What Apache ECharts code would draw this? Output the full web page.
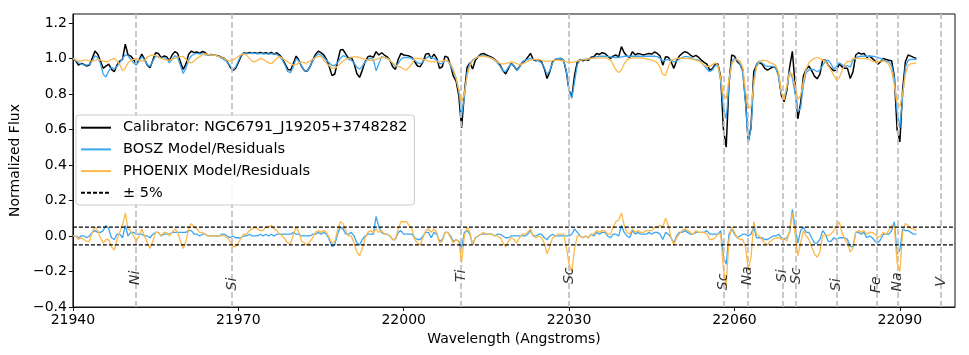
<!DOCTYPE html>
<html><head><meta charset="utf-8">
<script src="https://cdn.jsdelivr.net/npm/echarts@6/dist/echarts.min.js"></script>
<style>html,body{margin:0;padding:0;background:#fff}#chart{width:969px;height:355px}</style>
</head><body><div id="chart"></div>
<script>
// Wavelength sampling of the spectra (Angstroms)
const wavelengthStart = 21940;
const wavelengthStep = 0.5;

const calibrator = [
1.000,0.987,0.962,0.972,0.966,0.957,0.962,1.000,1.041,1.024,
0.985,0.944,0.957,0.968,0.938,0.925,0.962,0.985,0.994,1.080,
1.019,1.013,0.994,0.968,0.990,1.024,0.994,0.962,0.947,0.990,
1.032,1.028,1.004,1.013,1.009,0.987,1.019,1.038,1.028,0.981,
0.938,0.968,1.024,1.041,1.032,1.036,1.028,1.039,1.032,1.019,
1.022,1.019,1.017,1.013,1.006,1.000,0.981,0.953,0.931,0.944,
0.976,1.013,1.032,1.028,1.034,1.028,1.032,1.028,1.034,1.028,
1.032,1.026,1.034,1.024,1.032,1.019,0.998,0.968,0.938,0.934,
0.972,1.013,0.990,0.953,0.931,0.929,0.953,0.990,1.022,1.041,
1.032,1.020,0.995,0.953,0.903,0.912,0.981,1.047,1.050,1.024,
1.000,1.006,0.972,0.915,0.893,0.934,0.981,1.009,1.013,1.006,
1.038,1.019,1.032,1.019,1.009,0.990,0.953,0.938,0.994,1.028,
1.019,1.017,1.013,1.006,0.981,0.957,0.953,0.981,1.024,1.028,
1.000,1.024,1.000,0.944,0.953,1.013,1.006,0.962,0.900,0.874,
0.790,0.610,0.800,0.950,0.975,0.940,0.990,1.009,1.024,1.028,
1.019,1.013,1.006,0.994,0.981,0.962,0.931,0.912,0.944,0.972,
0.957,0.934,0.953,0.976,0.987,1.006,1.028,0.994,0.987,0.994,
0.981,0.944,0.887,0.925,0.981,0.994,0.998,1.000,0.990,0.925,
0.821,0.783,0.906,0.981,0.994,0.987,0.994,0.990,1.006,1.009,
1.028,1.022,1.032,1.028,1.013,1.000,1.013,1.019,1.009,1.066,
1.032,1.013,1.006,1.038,1.019,1.028,1.024,1.019,1.024,1.028,
1.024,1.036,1.028,1.013,0.962,1.009,1.006,0.981,0.944,0.987,
1.013,1.028,1.038,1.032,1.019,1.009,1.017,1.006,0.990,0.978,
0.968,0.934,0.942,0.968,0.968,0.897,0.600,0.500,0.860,1.019,
1.013,0.981,0.968,0.934,0.764,0.530,0.614,0.925,0.962,0.976,
0.968,0.944,0.934,0.944,0.953,0.947,0.906,0.793,0.756,0.820,
0.950,1.040,0.850,0.660,0.750,0.900,0.938,0.957,0.931,0.900,
0.885,0.912,0.990,0.990,0.962,0.944,0.931,0.934,0.968,0.953,
0.944,0.944,0.887,0.925,1.019,1.032,1.024,1.028,1.006,1.013,
1.000,0.985,0.968,0.981,1.000,0.994,0.990,0.987,0.897,0.600,
0.530,0.821,0.981,1.019,1.013,1.006,1.000];

const bosz = [
1.000,0.990,0.975,0.968,0.963,0.962,0.966,0.985,1.015,1.005,
0.970,0.910,0.895,0.930,0.950,0.940,0.955,0.975,1.000,1.020,
1.015,0.995,0.975,0.962,0.985,1.010,0.990,0.965,0.955,0.985,
1.012,1.010,1.000,1.005,1.000,0.975,0.995,1.015,1.005,0.960,
0.915,0.945,0.990,1.015,1.025,1.028,1.025,1.025,1.020,1.018,
1.020,1.018,1.015,1.010,1.000,0.992,0.980,0.960,0.935,0.950,
0.985,1.020,1.030,1.030,1.028,1.028,1.028,1.026,1.028,1.026,
1.026,1.025,1.026,1.025,1.022,1.010,0.990,0.960,0.925,0.920,
0.955,1.000,0.985,0.955,0.930,0.930,0.955,0.985,1.010,1.025,
1.020,1.005,0.988,0.975,0.960,0.960,0.975,1.000,1.015,1.010,
0.995,0.990,0.975,0.950,0.940,0.955,0.980,0.995,1.000,0.995,
0.930,0.970,1.010,1.005,1.000,0.990,0.970,0.955,0.970,0.995,
1.005,1.005,1.003,1.000,0.990,0.975,0.970,0.980,1.000,1.010,
1.005,1.000,0.990,0.970,0.970,0.990,0.985,0.960,0.925,0.890,
0.820,0.675,0.780,0.920,0.970,0.990,1.000,1.010,1.015,1.015,
1.012,1.008,1.000,0.990,0.975,0.955,0.930,0.925,0.950,0.970,
0.960,0.930,0.950,0.980,0.990,0.995,1.000,0.995,0.990,0.985,
0.975,0.950,0.910,0.930,0.975,0.995,1.000,1.000,0.990,0.930,
0.820,0.775,0.870,0.965,0.990,0.995,0.995,0.998,1.000,1.005,
1.010,1.012,1.012,1.012,1.010,1.008,1.006,1.005,1.005,1.008,
1.012,1.012,1.012,1.012,1.012,1.012,1.012,1.010,1.012,1.012,
1.012,1.012,1.010,1.000,0.985,0.990,0.995,0.990,0.980,0.985,
0.995,1.005,1.010,1.010,1.005,0.995,0.995,0.990,0.975,0.960,
0.940,0.925,0.935,0.960,0.960,0.870,0.720,0.660,0.850,0.980,
1.000,0.990,0.970,0.920,0.750,0.535,0.600,0.880,0.970,0.985,
0.975,0.960,0.955,0.955,0.955,0.945,0.900,0.800,0.780,0.830,
0.930,0.890,0.800,0.700,0.720,0.850,0.920,0.935,0.940,0.935,
0.925,0.935,0.960,0.985,0.990,0.970,0.940,0.955,0.975,0.965,
0.955,0.960,0.950,0.990,1.000,1.010,1.012,1.012,1.012,1.012,
1.012,1.010,1.005,1.000,0.990,0.985,0.980,0.960,0.890,0.700,
0.610,0.780,0.950,0.990,0.995,0.995,0.995];

const phoenix = [
1.000,0.990,0.985,0.985,0.990,0.990,0.988,0.985,0.988,0.995,
0.990,0.985,0.980,0.985,0.995,1.000,0.985,0.965,0.930,0.945,
0.975,0.988,0.995,1.000,0.990,0.985,0.990,1.005,1.015,1.020,
1.015,1.008,1.000,0.995,0.990,0.990,0.995,1.000,1.005,1.010,
1.010,0.995,0.980,0.975,0.985,1.000,1.010,1.020,1.025,1.022,
1.020,1.018,1.015,1.010,1.005,0.998,0.990,0.985,0.990,1.000,
1.012,1.020,1.025,1.020,1.000,0.985,0.980,0.990,1.000,0.995,
0.985,0.975,0.970,0.985,1.000,1.010,1.000,0.990,0.980,0.970,
0.962,0.965,0.975,0.980,0.975,0.975,0.985,0.995,1.005,1.010,
1.012,0.990,0.972,0.958,0.945,0.945,0.955,0.970,0.985,0.995,
1.000,1.005,1.008,1.008,1.005,1.000,0.995,0.990,0.988,0.990,
0.995,1.000,1.005,1.005,1.000,0.990,0.975,0.960,0.955,0.950,
0.940,0.935,0.950,0.970,1.000,1.000,0.998,0.995,0.990,0.985,
0.982,0.980,0.980,0.982,0.985,0.990,0.985,0.970,0.940,0.890,
0.820,0.755,0.800,0.900,0.960,0.985,1.000,1.008,1.012,1.012,
1.010,1.005,1.000,0.990,0.980,0.972,0.968,0.970,0.975,0.980,
0.978,0.970,0.965,0.968,0.975,0.985,0.990,0.995,0.995,0.993,
0.990,0.985,0.985,0.985,0.988,0.990,0.990,0.988,0.985,0.980,
0.978,0.978,0.980,0.985,0.990,0.992,0.995,0.997,1.000,1.002,
1.002,1.003,1.003,1.003,1.000,0.990,0.965,0.935,0.920,0.935,
0.970,0.990,1.000,1.003,1.003,1.003,1.003,1.000,0.998,0.995,
0.990,0.985,0.975,0.950,0.910,0.905,0.950,0.990,0.995,1.000,
1.000,1.000,1.000,1.000,0.998,0.995,0.990,0.985,0.975,0.960,
0.955,0.955,0.965,0.975,0.960,0.890,0.790,0.775,0.880,0.965,
0.990,0.995,0.985,0.950,0.820,0.720,0.730,0.850,0.950,0.980,
0.990,0.988,0.985,0.975,0.970,0.960,0.920,0.810,0.765,0.850,
0.920,0.910,0.840,0.770,0.790,0.870,0.940,0.975,0.990,1.000,
1.005,1.000,0.990,0.985,0.960,0.935,0.905,0.880,0.890,0.930,
0.965,0.985,0.980,1.000,1.000,1.000,1.000,1.000,0.998,0.995,
0.985,0.980,0.980,0.985,0.985,0.980,0.965,0.930,0.850,0.750,
0.730,0.800,0.910,0.960,0.970,0.970,0.975];

const boszResidual = [
0.00,0.00,-0.01,0.00,0.00,-0.01,0.00,0.02,0.03,0.02,
0.02,0.03,0.06,0.04,-0.01,-0.02,0.01,0.01,-0.01,0.06,
0.00,0.02,0.02,0.01,0.01,0.01,0.00,0.00,-0.01,0.01,
0.02,0.02,0.00,0.01,0.01,0.01,0.02,0.02,0.02,0.02,
0.02,0.02,0.03,0.03,0.01,0.01,0.00,0.01,0.01,0.00,
0.00,0.00,0.00,0.00,0.01,0.01,0.00,-0.01,0.00,-0.01,
-0.01,-0.01,0.00,0.00,0.01,0.00,0.00,0.00,0.01,0.00,
0.01,0.00,0.01,0.00,0.01,0.01,0.01,0.01,0.01,0.01,
0.02,0.01,0.01,0.00,0.00,0.00,0.00,0.01,0.01,0.02,
0.01,0.02,0.01,-0.02,-0.06,-0.05,0.01,0.05,0.04,0.01,
0.01,0.02,0.00,-0.04,-0.05,-0.02,0.00,0.01,0.01,0.01,
0.11,0.05,0.02,0.01,0.01,0.00,-0.02,-0.02,0.02,0.03,
0.01,0.01,0.01,0.01,-0.01,-0.02,-0.02,0.00,0.02,0.02,
-0.01,0.02,0.01,-0.03,-0.02,0.02,0.02,0.00,-0.03,-0.02,
-0.03,-0.07,0.02,0.03,0.01,-0.05,-0.01,0.00,0.01,0.01,
0.01,0.01,0.01,0.00,0.01,0.01,0.00,-0.01,-0.01,0.00,
0.00,0.00,0.00,0.00,0.00,0.01,0.03,0.00,0.00,0.01,
0.01,-0.01,-0.02,0.00,0.01,0.00,0.00,0.00,0.00,0.00,
0.00,0.01,0.04,0.02,0.00,-0.01,0.00,-0.01,0.01,0.00,
0.02,0.01,0.02,0.02,0.00,-0.01,0.01,0.01,0.00,0.06,
0.02,0.00,-0.01,0.03,0.01,0.02,0.01,0.01,0.01,0.02,
0.01,0.02,0.02,0.01,-0.02,0.02,0.01,-0.01,-0.04,0.00,
0.02,0.02,0.03,0.02,0.01,0.01,0.02,0.02,0.02,0.02,
0.03,0.01,0.01,0.01,0.01,0.03,-0.12,-0.16,0.01,0.04,
0.01,-0.01,0.00,0.01,0.01,0.00,0.01,0.05,-0.01,-0.01,
-0.01,-0.02,-0.02,-0.01,0.00,0.00,0.01,-0.01,-0.02,-0.01,
0.02,0.15,0.05,-0.04,0.03,0.05,0.02,0.02,-0.01,-0.04,
-0.04,-0.02,0.03,0.01,-0.03,-0.03,-0.01,-0.02,-0.01,-0.01,
-0.01,-0.02,-0.06,-0.06,0.02,0.02,0.01,0.02,-0.01,0.00,
-0.01,-0.03,-0.04,-0.02,0.01,0.01,0.01,0.03,0.08,-0.10,
-0.08,0.04,0.03,0.03,0.02,0.01,0.01];

const phoenixResidual = [
0.00,0.00,-0.02,-0.01,-0.02,-0.03,-0.03,0.02,0.05,0.03,
-0.01,-0.04,-0.02,-0.02,-0.06,-0.08,-0.02,0.02,0.06,0.13,
0.04,0.03,0.00,-0.03,0.00,0.04,0.00,-0.04,-0.07,-0.03,
0.02,0.02,0.00,0.02,0.02,0.00,0.02,0.04,0.02,-0.03,
-0.07,-0.03,0.04,0.07,0.05,0.04,0.02,0.02,0.01,0.00,
0.00,0.00,0.00,0.00,0.00,0.00,-0.01,-0.03,-0.06,-0.06,
-0.04,-0.01,0.01,0.01,0.03,0.04,0.05,0.04,0.03,0.03,
0.05,0.05,0.06,0.04,0.03,0.01,0.00,-0.02,-0.04,-0.04,
0.01,0.05,0.02,-0.03,-0.04,-0.05,-0.03,-0.01,0.02,0.03,
0.02,0.03,0.02,-0.01,-0.04,-0.03,0.03,0.08,0.07,0.03,
0.00,0.00,-0.04,-0.09,-0.11,-0.07,-0.01,0.02,0.03,0.02,
0.04,0.02,0.03,0.01,0.01,0.00,-0.02,-0.02,0.04,0.08,
0.08,0.08,0.06,0.04,-0.02,-0.04,-0.05,-0.01,0.03,0.04,
0.02,0.04,0.02,-0.04,-0.03,0.02,0.02,-0.01,-0.04,-0.02,
-0.03,-0.15,0.00,0.05,0.02,-0.05,-0.01,0.00,0.01,0.02,
0.01,0.01,0.01,0.00,0.00,-0.01,-0.04,-0.06,-0.03,-0.01,
-0.02,-0.04,-0.01,0.01,0.01,0.02,0.04,0.00,-0.01,0.00,
-0.01,-0.04,-0.10,-0.06,-0.01,0.00,0.01,0.01,0.01,-0.06,
-0.16,-0.20,-0.07,0.00,0.00,-0.01,0.00,-0.01,0.01,0.01,
0.03,0.02,0.03,0.03,0.01,0.01,0.05,0.08,0.09,0.13,
0.06,0.02,0.01,0.04,0.02,0.03,0.02,0.02,0.03,0.03,
0.03,0.05,0.05,0.06,0.05,0.10,0.06,-0.01,-0.05,-0.01,
0.01,0.03,0.04,0.03,0.02,0.01,0.03,0.02,0.02,0.02,
0.01,-0.02,-0.02,-0.01,0.01,0.01,-0.19,-0.28,-0.02,0.05,
0.02,-0.01,-0.02,-0.02,-0.06,-0.19,-0.12,0.08,0.01,0.00,
-0.02,-0.04,-0.05,-0.03,-0.02,-0.01,-0.01,-0.02,-0.01,-0.03,
0.03,0.13,0.01,-0.11,-0.04,0.03,0.00,-0.02,-0.06,-0.10,
-0.12,-0.09,0.00,0.01,0.00,0.01,0.03,0.05,0.08,0.02,
-0.02,-0.04,-0.09,-0.07,0.02,0.03,0.02,0.03,0.01,0.02,
0.02,0.01,-0.01,0.00,0.02,0.01,0.03,0.06,0.05,-0.15,
-0.20,0.02,0.07,0.06,0.04,0.04,0.03];

const elementNames = ['Ni','Si','Ti','Sc','Sc','Na','Si','Sc','Si','Fe','Na','V'];
const elementWavelengths = [21951.4,21968.9,22010.4,22030.0,22058.0,22062.4,22068.7,22071.2,22078.5,22085.8,22089.6,22097.5];
const elementLabelY = [-0.227,-0.262,-0.216,-0.216,-0.25,-0.216,-0.216,-0.216,-0.266,-0.266,-0.25,-0.25];

const xTicks = [21940,21970,22000,22030,22060,22090];
const yTicks = [-0.4,-0.2,0.0,0.2,0.4,0.6,0.8,1.0,1.2];
const bandLevel = 0.05;
const xRange = [21940, 22100];
const yRange = [-0.4, 1.25];

const names = {
  cal: 'Calibrator: NGC6791_J19205+3748282',
  bosz: 'BOSZ Model/Residuals',
  phx: 'PHOENIX Model/Residuals',
  band: '\u00b1 5%'
};

function pairs(arr){ return arr.map((v,i)=>[wavelengthStart + wavelengthStep*i, v]); }

const FONT = 'DejaVu Sans';
const BLUE = '#3aa6f2';
const ORANGE = '#fdb94a';

const chart = echarts.init(document.getElementById('chart'), null, {renderer:'canvas'});
const lineBase = {type:'line', showSymbol:false, symbol:'none', animation:false, silent:true};

chart.setOption({
  animation:false,
  backgroundColor:'#ffffff',
  textStyle:{fontFamily:FONT},
  grid:{left:68, right:14, top:14, bottom:48, show:true, borderColor:'#111', borderWidth:1, backgroundColor:'transparent'},
  legend:{
    data:[names.cal, names.bosz, names.phx, names.band],
    orient:'vertical', left:76, top:115,
    itemWidth:30, itemHeight:14, itemGap:5.7,
    padding:[4.7,7,4.2,4],
    backgroundColor:'rgba(255,255,255,0.8)', borderColor:'#cccccc', borderWidth:1, borderRadius:3,
    itemStyle:{opacity:0},
    textStyle:{fontFamily:FONT, fontSize:14.5, color:'#000', lineHeight:16, padding:[0,0,0,7]},
    z:20, selectedMode:false
  },
  xAxis:{
    type:'value', min:xRange[0], max:xRange[1],
    name:'Wavelength (Angstroms)', nameLocation:'middle', nameGap:25,
    nameTextStyle:{fontFamily:FONT, fontSize:14, color:'#000'},
    axisLine:{show:true, onZero:false, lineStyle:{color:'#111', width:1}},
    axisTick:{show:true, length:4, lineStyle:{color:'#111', width:1}, customValues:xTicks},
    axisLabel:{fontFamily:FONT, fontSize:14, color:'#000', margin:6, customValues:xTicks, formatter:v=>String(v)},
    splitLine:{show:false}
  },
  yAxis:{
    type:'value', min:yRange[0], max:yRange[1],
    name:'Normalized Flux', nameLocation:'middle', nameGap:44,
    nameTextStyle:{fontFamily:FONT, fontSize:14, color:'#000'},
    axisLine:{show:true, onZero:false, lineStyle:{color:'#111', width:1}},
    axisTick:{show:true, length:4, lineStyle:{color:'#111', width:1}, customValues:yTicks},
    axisLabel:{fontFamily:FONT, fontSize:14, color:'#000', margin:6, customValues:yTicks,
      formatter:v=>(v<-1e-9?'\u2212':'')+Math.abs(v).toFixed(1)},
    splitLine:{show:false}
  },
  series:[
    {type:'line', name:'elementLines', data:[], silent:true, z:1,
      markLine:{silent:true, symbol:['none','none'], animation:false, label:{show:false},
        lineStyle:{color:'#c4c4c4', type:[6,3], width:1.8},
        data:elementWavelengths.map(w=>({xAxis:w}))}},
    Object.assign({}, lineBase, {name:names.cal, data:pairs(calibrator), z:3,
      lineStyle:{color:'#000', width:1.5}, itemStyle:{color:'#000'}}),
    Object.assign({}, lineBase, {name:names.bosz, data:pairs(bosz), z:4,
      lineStyle:{color:BLUE, width:1.3}, itemStyle:{color:BLUE}}),
    Object.assign({}, lineBase, {name:names.phx, data:pairs(phoenix), z:5,
      lineStyle:{color:ORANGE, width:1.3}, itemStyle:{color:ORANGE}}),
    Object.assign({}, lineBase, {name:names.bosz, data:pairs(boszResidual), z:4,
      lineStyle:{color:BLUE, width:1.3}, itemStyle:{color:BLUE}}),
    Object.assign({}, lineBase, {name:names.phx, data:pairs(phoenixResidual), z:5,
      lineStyle:{color:ORANGE, width:1.3}, itemStyle:{color:ORANGE}}),
    Object.assign({}, lineBase, {name:names.band, data:[[xRange[0], bandLevel],[xRange[1], bandLevel]], z:6,
      lineStyle:{color:'#000', width:1.1, type:[4,2]}, itemStyle:{color:'#000'}}),
    Object.assign({}, lineBase, {name:names.band, data:[[xRange[0], -bandLevel],[xRange[1], -bandLevel]], z:6,
      lineStyle:{color:'#000', width:1.1, type:[4,2]}, itemStyle:{color:'#000'}}),
    {type:'scatter', name:'elementLabels', silent:true, z:7, symbolSize:1,
      itemStyle:{color:'rgba(0,0,0,0)'},
      data:elementWavelengths.map((w,i)=>({value:[w, elementLabelY[i]], name:elementNames[i]})),
      label:{show:true, position:'inside', formatter:p=>p.name, rotate:90, offset:[-1.5,0],
        fontFamily:FONT, fontStyle:'italic', fontSize:14, color:'#000'}}
  ]
});
</script></body></html>
